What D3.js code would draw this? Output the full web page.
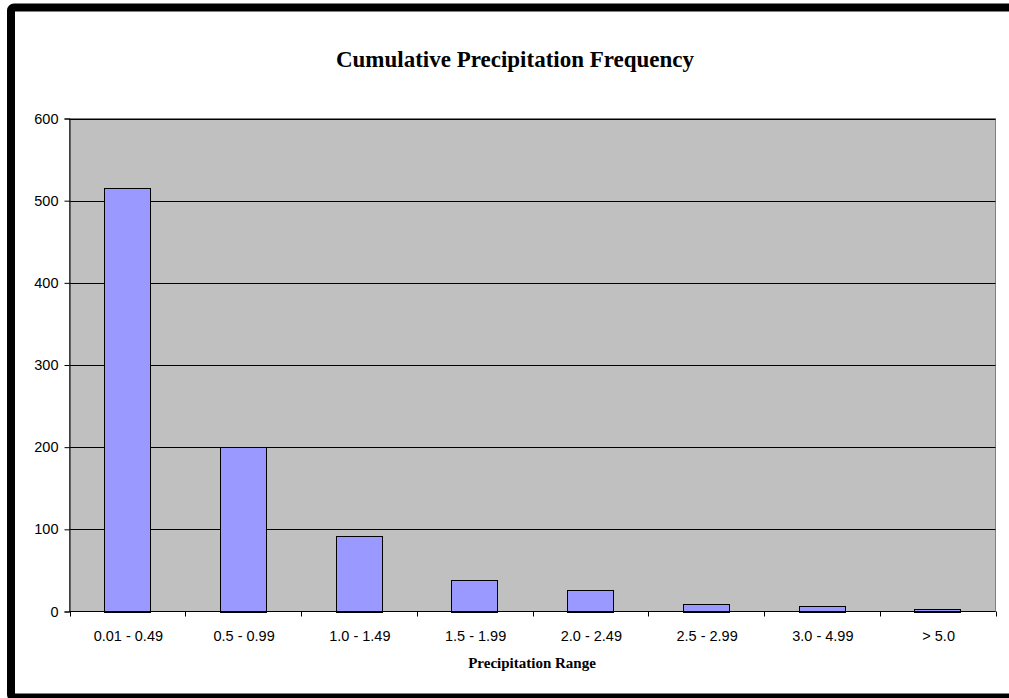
<!DOCTYPE html>
<html>
<head>
<meta charset="utf-8">
<script src="https://cdn.jsdelivr.net/npm/d3@7"></script>
<style>
  html, body { margin: 0; padding: 0; background: #ffffff; }
  svg { display: block; }
</style>
</head>
<body>
<svg id="chart" width="1009" height="698"></svg>
<script>
// Precipitation ranges (inches) and the number of days falling in each
const categories = ["0.01 - 0.49", "0.5 - 0.99", "1.0 - 1.49", "1.5 - 1.99",
                    "2.0 - 2.49", "2.5 - 2.99", "3.0 - 4.99", "> 5.0"];
const counts = [516, 200, 92, 38, 26, 9, 7, 3];
const yTicks = [0, 100, 200, 300, 400, 500, 600];

const title = "Cumulative Precipitation Frequency";
const xTitle = "Precipitation Range";

const svg = d3.select("#chart");

// Outer chart frame
svg.append("rect")
  .attr("x", 11).attr("y", 7.5)
  .attr("width", 1010).attr("height", 690)
  .attr("rx", 3)
  .attr("fill", "#ffffff")
  .attr("stroke", "#000000")
  .attr("stroke-width", 8);

const plot = { left: 69.5, right: 995.5, top: 118.5, bottom: 611.5 };

const x = d3.scaleBand()
  .domain(categories)
  .range([plot.left, plot.right])
  .paddingInner(0.6)
  .paddingOuter(0.3);

const xBand = d3.scaleBand()
  .domain(categories)
  .range([plot.left, plot.right]);

const y = d3.scaleLinear()
  .domain([0, 600])
  .range([plot.bottom, plot.top]);

// Plot area background
svg.append("rect")
  .attr("x", plot.left).attr("y", plot.top)
  .attr("width", plot.right - plot.left)
  .attr("height", plot.bottom - plot.top)
  .attr("fill", "#c0c0c0")
  .attr("stroke", "#808080")
  .attr("stroke-width", 1);

// Horizontal gridlines
svg.append("g")
  .selectAll("line")
  .data(yTicks.filter(d => d > 0))
  .join("line")
  .attr("x1", plot.left).attr("x2", plot.right)
  .attr("y1", d => Math.round(y(d)) + 0.5)
  .attr("y2", d => Math.round(y(d)) + 0.5)
  .attr("stroke", "#000000")
  .attr("stroke-width", 1);

// Bars
svg.append("g")
  .selectAll("rect")
  .data(categories.map((c, i) => ({ c, v: counts[i] })))
  .join("rect")
  .attr("x", d => Math.round(x(d.c)) + 0.5)
  .attr("width", Math.round(x.bandwidth()))
  .attr("y", d => Math.round(y(d.v)) + 0.5)
  .attr("height", d => Math.round(y(0)) - Math.round(y(d.v)))
  .attr("fill", "#9999ff")
  .attr("stroke", "#000000")
  .attr("stroke-width", 1);

// Y axis
const yAxis = d3.axisLeft(y)
  .tickValues(yTicks)
  .tickSize(5)
  .tickPadding(6)
  .tickFormat(d3.format("d"));

const gy = svg.append("g")
  .attr("transform", `translate(${plot.left},0)`)
  .call(yAxis);
gy.select(".domain").attr("stroke", "#000000");
gy.selectAll(".tick line").attr("stroke", "#000000");
gy.selectAll(".tick text")
  .attr("font-family", "Arial, 'Liberation Sans', sans-serif")
  .attr("font-size", 14.5)
  .attr("fill", "#000000");

// X axis: ticks sit on the boundaries between categories
const gx = svg.append("g")
  .attr("transform", `translate(0,${plot.bottom})`);
gx.append("line")
  .attr("x1", plot.left).attr("x2", plot.right)
  .attr("y1", 0).attr("y2", 0)
  .attr("stroke", "#000000");
const boundaries = categories.map(c => xBand(c)).concat([plot.right]);
gx.selectAll("line.tick")
  .data(boundaries)
  .join("line")
  .attr("class", "tick")
  .attr("x1", d => Math.round(d) + 0.5).attr("x2", d => Math.round(d) + 0.5)
  .attr("y1", 0).attr("y2", 5)
  .attr("stroke", "#000000");
gx.selectAll("text")
  .data(categories)
  .join("text")
  .attr("x", d => xBand(d) + xBand.bandwidth() / 2 + 1)
  .attr("y", 29)
  .attr("text-anchor", "middle")
  .attr("font-family", "Arial, 'Liberation Sans', sans-serif")
  .attr("font-size", 14.5)
  .attr("fill", "#000000")
  .text(d => d);

// Titles
svg.append("text")
  .attr("x", 515).attr("y", 67)
  .attr("text-anchor", "middle")
  .attr("font-family", "'Times New Roman', 'Liberation Serif', serif")
  .attr("font-weight", "bold")
  .attr("font-size", 23)
  .attr("fill", "#000000")
  .text(title);

svg.append("text")
  .attr("x", 532).attr("y", 668)
  .attr("text-anchor", "middle")
  .attr("font-family", "'Times New Roman', 'Liberation Serif', serif")
  .attr("font-weight", "bold")
  .attr("font-size", 15)
  .attr("fill", "#000000")
  .text(xTitle);
</script>
</body>
</html>
